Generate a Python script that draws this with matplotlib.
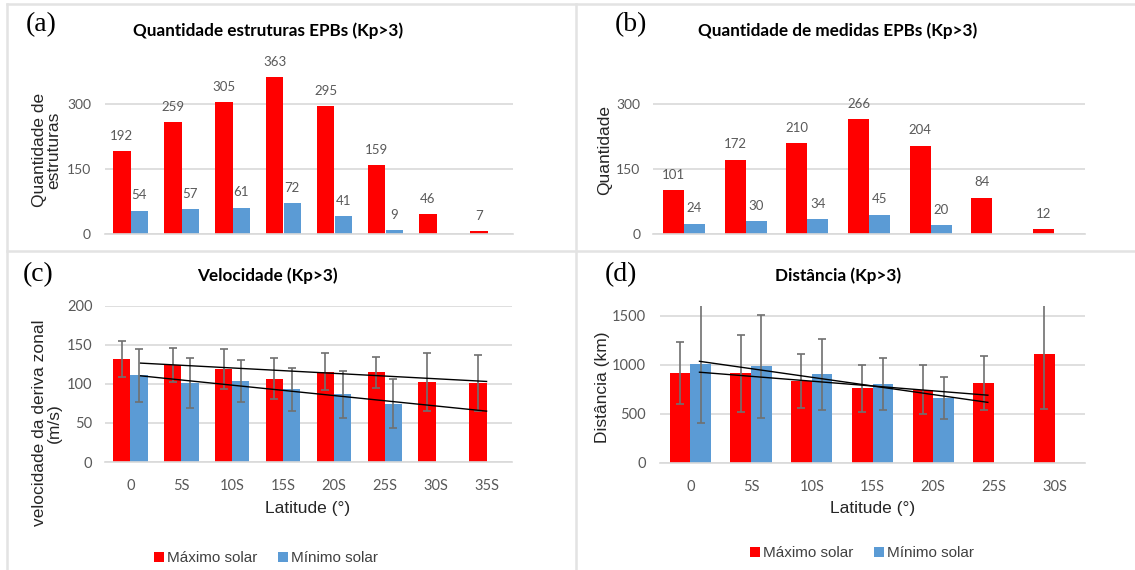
import matplotlib
matplotlib.use('Agg')
import matplotlib.pyplot as plt
from matplotlib.lines import Line2D
import numpy as np

####################################################################
#                          Input data
####################################################################
lat8 = ['0', '5S', '10S', '15S', '20S', '25S', '30S', '35S']
lat7 = ['0', '5S', '10S', '15S', '20S', '25S', '30S']

# (a) number of structures
estr_max = [192, 259, 305, 363, 295, 159, 46, 7]
estr_min = [54, 57, 61, 72, 41, 9, None, None]

# (b) number of measurements
med_max = [101, 172, 210, 266, 204, 84, 12]
med_min = [24, 30, 34, 45, 20, None, None]

# (c) zonal drift velocity (m/s) and error
vel_max = [132, 124, 119, 107, 116, 115, 103, 101]
vel_max_err = [23, 22, 26, 26, 24, 20, 37, 36]
vel_min = [111, 101, 104, 93, 87, 75, None, None]
vel_min_err = [34, 32, 27, 28, 30, 31, None, None]

# (d) distance (km) and error
dist_max = [916, 913, 835, 760, 746, 814, 1106]
dist_max_err = [316, 392, 272, 238, 248, 272, 560]
dist_min = [1011, 987, 903, 804, 662, None, None]
dist_min_err = [607, 526, 362, 262, 213, None, None]

legends = ['Máximo solar', 'Mínimo solar']

####################################################################
#                          Style
####################################################################
RED = '#ff0000'
BLUE = '#5b9bd5'
GRID = '#d9d9d9'
TXT = '#595959'
ERR = '#707070'
W, H = 1135, 570
fig = plt.figure(figsize=(W / 100, H / 100), dpi=100)


def arr(v):
    return np.array([np.nan if a is None else a for a in v], dtype=float)


def make_ax(l, r, b, t):
    # pixel box -> figure fraction
    ax = fig.add_axes([l / W, 1 - b / H, (r - l) / W, (b - t) / H])
    for s in ['top', 'right', 'left']:
        ax.spines[s].set_visible(False)
    ax.spines['bottom'].set_color(GRID)
    ax.spines['bottom'].set_linewidth(1.2)
    ax.yaxis.grid(True, color=GRID, linewidth=1.2)
    ax.set_axisbelow(True)
    ax.tick_params(length=0, labelsize=9.5, labelcolor=TXT)
    return ax


def fix_ticks(ax, size):
    for lab in ax.get_yticklabels() + ax.get_xticklabels():
        lab.set_fontfamily('Lato')
        lab.set_fontsize(size)


def txt(x, y, s, **kw):
    fig.text(x / W, 1 - y / H, s, ha='center', va='center', **kw)


def bars(ax, vmax, vmin, emax=None, emin=None, labels=False):
    x = np.arange(len(vmax))
    w = 0.34
    a, b = arr(vmax), arr(vmin)
    ax.bar(x - w / 2, a, w, color=RED, label=legends[0])
    ax.bar(x + w / 2, b, w, color=BLUE, label=legends[1])
    if emax is not None:
        ax.errorbar(x - w / 2, a, yerr=arr(emax), fmt='none', ecolor=ERR,
                    elinewidth=1.2, capsize=3, capthick=1.2)
        ax.errorbar(x + w / 2, b, yerr=arr(emin), fmt='none', ecolor=ERR,
                    elinewidth=1.2, capsize=3, capthick=1.2)
    if labels:
        for xs, vals in [(x - w / 2, a), (x + w / 2, b)]:
            for xi, v in zip(xs, vals):
                if np.isnan(v):
                    continue
                ax.annotate(str(int(v)), (xi, v), xytext=(0, 11),
                            textcoords='offset points', ha='center',
                            va='center', fontsize=9.5, color=TXT,
                            family='Lato')
    ax.set_xlim(-0.5, len(vmax) - 0.5)
    return x


def trend(ax, vals, x0, x1):
    v = arr(vals)
    xi = np.arange(len(v))
    ok = ~np.isnan(v)
    p = np.polyfit(xi[ok], v[ok], 1)
    xs = np.array([x0, x1])
    ax.plot(xs, np.polyval(p, xs), color='black', linewidth=1)


def legend(ax, cx, cy):
    ax.legend(loc='center', bbox_to_anchor=(cx / W, 1 - cy / H),
              bbox_transform=fig.transFigure, ncol=2, frameon=False,
              handlelength=0.65, handleheight=0.65, handletextpad=0.2,
              columnspacing=1.3,
              prop={'family': 'Liberation Sans', 'size': 11},
              labelcolor='#404040')


####################################################################
#                          (a)
####################################################################
ax = make_ax(105, 513, 234, 61)
bars(ax, estr_max, estr_min, labels=True)
ax.set_ylim(0, 400)
ax.set_yticks([0, 150, 300])
ax.set_xticks([])
ax.tick_params(axis='y', pad=10)
fix_ticks(ax, 10)

####################################################################
#                          (b)
####################################################################
ax = make_ax(653, 1085, 234, 61)
bars(ax, med_max, med_min, labels=True)
ax.set_ylim(0, 400)
ax.set_yticks([0, 150, 300])
ax.set_xticks([])
ax.tick_params(axis='y', pad=9)
fix_ticks(ax, 10)

####################################################################
#                          (c)
####################################################################
ax = make_ax(105, 512, 462, 306)
x = bars(ax, vel_max, vel_min, vel_max_err, vel_min_err)
trend(ax, vel_max[:6], 0.2, 7.0)
trend(ax, vel_min[:6], 0.2, 7.0)
ax.set_ylim(0, 200)
ax.set_yticks([0, 50, 100, 150, 200])
ax.set_xticks(x)
ax.set_xticklabels(lat8)
ax.tick_params(axis='y', pad=9)
ax.tick_params(axis='x', pad=12)
fix_ticks(ax, 10.5)
legend(ax, 266, 558)

####################################################################
#                          (d)
####################################################################
ax = make_ax(660, 1085, 463, 306)
x = bars(ax, dist_max, dist_min, dist_max_err, dist_min_err)
trend(ax, dist_max[:5], 0.15, 4.9)
trend(ax, dist_min[:5], 0.15, 4.9)
ax.set_ylim(0, 1600)
ax.set_yticks([0, 500, 1000, 1500])
ax.set_xticks(x)
ax.set_xticklabels(lat7)
ax.tick_params(axis='y', pad=10)
ax.tick_params(axis='x', pad=12)
fix_ticks(ax, 10.5)
legend(ax, 862, 553)

####################################################################
#                     titles, labels, frame
####################################################################
tkw = dict(fontsize=12.3, fontweight='bold', family='Lato')
txt(268, 31, 'Quantidade estruturas EPBs (Kp>3)', **tkw)
txt(838, 31, 'Quantidade de medidas EPBs (Kp>3)', **tkw)
txt(267, 276, 'Velocidade (Kp>3)', **tkw)
txt(838, 276, 'Distância (Kp>3)', **tkw)

pkw = dict(fontsize=20, family='Liberation Serif')
txt(41, 25, '(a)', **pkw)
txt(631, 25, '(b)', **pkw)
txt(38, 275, '(c)', **pkw)
txt(621, 275, '(d)', **pkw)

lkw = dict(fontsize=12.5, family='Liberation Sans', color='#262626')
txt(47, 150, 'Quantidade de\nestruturas', rotation=90, linespacing=0.95, **lkw)
txt(605, 150, 'Quantidade', rotation=90, **lkw)
txt(47, 423, 'velocidade da deriva zonal\n(m/s)', rotation=90, linespacing=0.95, **lkw)
txt(603, 387, 'Distância (km)', rotation=90, **lkw)
txt(308, 508, 'Latitude (°)', **lkw)
txt(873, 508, 'Latitude (°)', **lkw)

# panel frame lines
for (x0, y0, x1, y1) in [(7, 4, W, 4), (7, 4, 7, H), (576, 4, 576, H), (7, 251, W, 251)]:
    fig.add_artist(Line2D([x0 / W, x1 / W], [1 - y0 / H, 1 - y1 / H],
                          transform=fig.transFigure, color='#e3e3e3', linewidth=1.8))

plt.savefig('out.png', dpi=100)
